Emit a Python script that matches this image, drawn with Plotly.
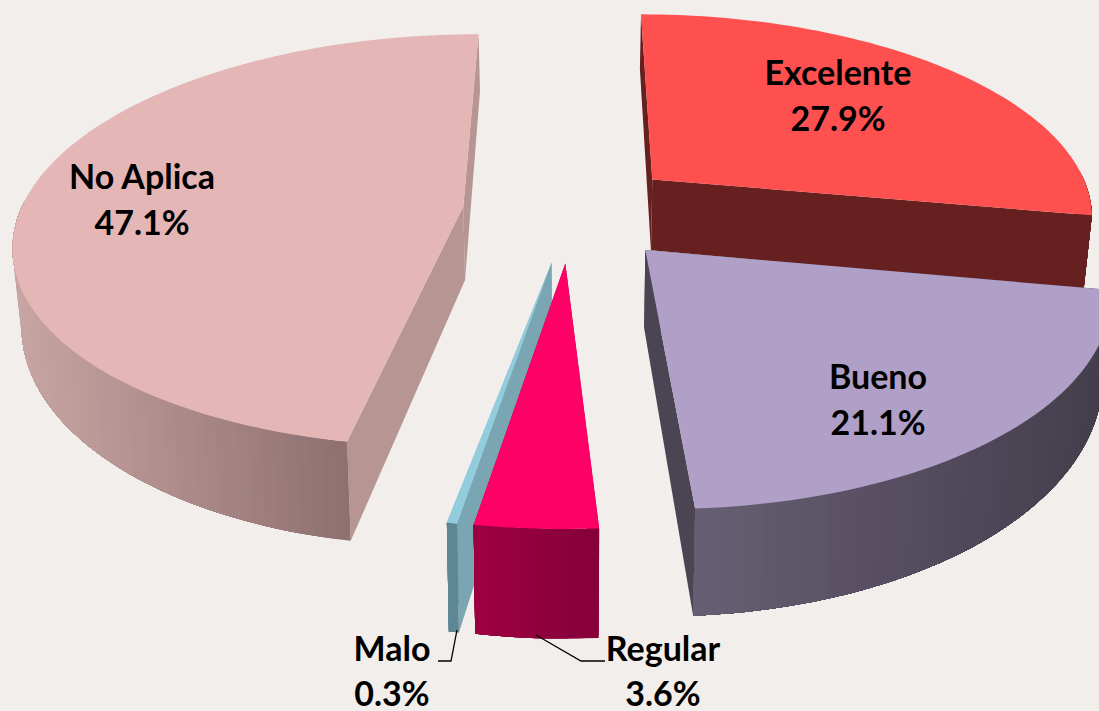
import numpy as np
import plotly.graph_objects as go

categories = ["Excelente", "Bueno", "Regular", "Malo", "No Aplica"]
shares = [27.9, 21.1, 3.6, 0.3, 47.1]
pct_labels = ["27.9%", "21.1%", "3.6%", "0.3%", "47.1%"]

top_colors = ["#FF5050", "#B09FC6", "#FF0066", "#92CDDD", "#E4B6B6"]
cut_colors = ["#672020", "#4A4453", "#8F0038", "#7AA6B3", "#B69592"]
wall_left = ["#672020", "#675F73", "#9E0040", "#5E8794", "#C8A5A3"]
wall_right = ["#672020", "#433D4B", "#84003A", "#5E8794", "#8E7070"]
draw_order = [4, 0, 3, 2, 1]

label_x = [838, 878, 663, 392, 142]
label_y = [76, 380, 652, 652, 180]
pct_y = [122, 426, 697, 697, 226]

CX, CY = 571, 211
RX, RY = 443, 202
PERSP = 0.165
PULL_X, PULL_Y = 0.245, 0.25
DEPTH = 74
DEPTH_POW = 1.7
WALL_SHRINK = 0.984


def project(u, v):
    w = 1 / (1 - PERSP * v)
    return CX + RX * u * w, CY + RY * v * w, w


def lower(x, y, w):
    return CX + (x - CX) * WALL_SHRINK, y + DEPTH * w ** DEPTH_POW


def mix(c1, c2, t):
    a = [int(c1[i:i + 2], 16) for i in (1, 3, 5)]
    b = [int(c2[i:i + 2], 16) for i in (1, 3, 5)]
    return "rgb(%d,%d,%d)" % tuple(round(p + (q - p) * t) for p, q in zip(a, b))


def poly(fig, xs, ys, color):
    fig.add_trace(go.Scatter(
        x=list(xs), y=list(ys), mode="none", fill="toself", fillcolor=color,
        hoverinfo="skip", showlegend=False))


fig = go.Figure()
edges = np.concatenate([[0], np.cumsum(shares)]) / np.sum(shares) * 2 * np.pi

for i in draw_order:
    a0, a1 = edges[i], edges[i + 1]
    mid = (a0 + a1) / 2
    ou, ov = PULL_X * np.sin(mid), -PULL_Y * np.cos(mid)
    th = np.linspace(a0, a1, max(8, int((a1 - a0) * 40)))
    ax, ay, aw = project(ou + np.sin(th), ov - np.cos(th))
    tx, ty, tw = project(ou, ov)
    lx, ly = lower(ax, ay, aw)
    ltx, lty = lower(tx, ty, tw)

    # cut faces
    for k in (0, -1):
        poly(fig, [tx, ax[k], lx[k], ltx, tx], [ty, ay[k], ly[k], lty, ty], cut_colors[i])

    # outer wall: each strip covers the remainder of the rim, so no seams show
    front = np.where(np.cos(th) < 0.05)[0]
    if len(front) > 1:
        idx = np.arange(front[0], front[-1] + 1)
        xmin, xmax = ax[idx].min(), ax[idx].max()
        for p in idx[:-1]:
            t = ((ax[p] + ax[p + 1]) / 2 - xmin) / max(xmax - xmin, 1)
            end = idx[-1] + 1
            poly(fig,
                 np.r_[ax[p:end], lx[p:end][::-1], ax[p]],
                 np.r_[ay[p:end], ly[p:end][::-1], ay[p]],
                 mix(wall_left[i], wall_right[i], t))

    # top face
    poly(fig, np.r_[tx, ax, tx], np.r_[ty, ay, ty], top_colors[i])

# leader lines
leader_x = [438, 451, 457, None, 605, 581, 536]
leader_y = [661, 661, 630, None, 661, 661, 635]
fig.add_trace(go.Scatter(x=leader_x, y=leader_y, mode="lines", line=dict(color="black", width=1.3),
                         hoverinfo="skip", showlegend=False))

font = dict(family="Lato", size=34, color="black", weight="bold")
fig.add_trace(go.Scatter(x=label_x, y=label_y, mode="text", text=categories, textfont=font,
                         textposition="middle center", hoverinfo="skip", showlegend=False))
fig.add_trace(go.Scatter(x=label_x, y=pct_y, mode="text", text=pct_labels,
                         textfont=font, textposition="middle center", hoverinfo="skip", showlegend=False))

fig.update_xaxes(range=[0, 1099], visible=False, fixedrange=True)
fig.update_yaxes(range=[711, 0], visible=False, fixedrange=True)
fig.update_layout(width=1099, height=711, margin=dict(l=0, r=0, t=0, b=0),
                  paper_bgcolor="#F2EEEB", plot_bgcolor="#F2EEEB", showlegend=False)
fig.write_html("out.html", config={"displayModeBar": False},
               post_script="document.body.style.margin='0';document.body.style.background='#F2EEEB';")
